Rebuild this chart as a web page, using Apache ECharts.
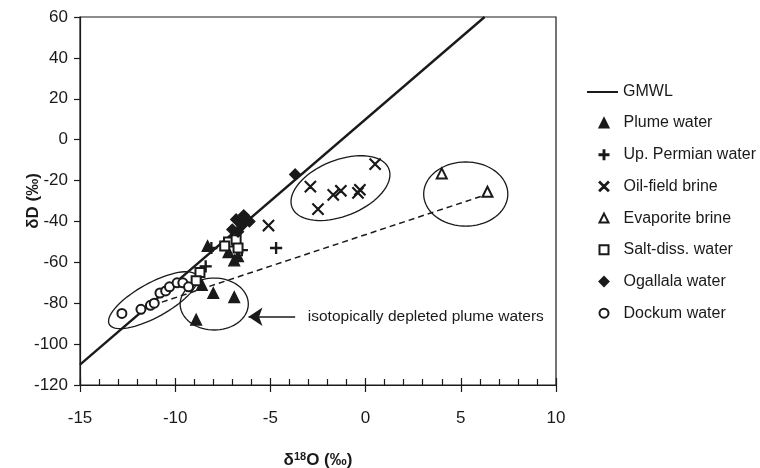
<!DOCTYPE html>
<html>
<head>
    <meta charset="utf-8">
    <title>δD vs δ18O</title>
    <script src="https://cdn.jsdelivr.net/npm/echarts@6/dist/echarts.min.js"></script>
    <style>
        html, body { margin: 0; padding: 0; background: #fff; }
        #main { width: 760px; height: 468px; }
    </style>
</head>
<body>
<div id="main"></div>
<script>
    // values
    var gmwlX = [-15, 6.25];
    var gmwlY = [-110, 60];
    var trendX = [-11.2, 6.3];
    var trendY = [-81, -27];

    var plumeX = [-8.3, -7.2, -6.9, -6.7, -8.6, -8.0, -6.9, -8.9];
    var plumeY = [-52, -55, -59, -57, -71, -75, -77, -88];
    var permianX = [-8.4, -8.1, -6.5, -4.7];
    var permianY = [-62, -53, -54, -53];
    var brineX = [0.5, -2.9, -2.5, -1.7, -1.3, -0.4, -0.3, -5.1];
    var brineY = [-12, -23, -34, -27, -25, -26, -24.5, -42];
    var evapX = [4.0, 6.4];
    var evapY = [-16.5, -25.5];
    var saltX = [-8.7, -8.9, -7.2, -6.8, -6.7, -7.4];
    var saltY = [-65, -69, -50, -49, -53, -52];
    var ogaX = [-6.8, -6.4, -6.5, -6.1, -7.0, -6.7, -6.3, -3.7];
    var ogaY = [-39, -37, -42, -40, -44, -45, -38.5, -17];
    var dockX = [-12.8, -11.8, -11.3, -11.1, -10.8, -10.5, -10.3, -9.9, -9.6, -9.3];
    var dockY = [-85, -83, -81, -80, -75, -74, -72, -70, -70, -72];

    var pointNames = ['Plume water', 'Up. Permian water', 'Oil-field brine', 'Evaporite brine',
        'Salt-diss. water', 'Ogallala water', 'Dockum water'];

    // ellipses drawn round the groups: centre and two half-axis vectors, data units
    var ellCx = [-11.16, -7.95, -1.32, 5.26];
    var ellCy = [-78.5, -80.4, -23.7, -26.6];
    var ellAx = [2.30, 1.79, 2.54, 2.21];
    var ellAy = [11.85, 0, 9.5, 0];
    var ellBx = [0.43, 0, 0.55, 0];
    var ellBy = [-7.3, -12.7, -12.7, -15.7];

    var arrowFrom = [-3.7, -86.6];
    var arrowTo = [-6.15, -86.6];
    var noteAt = [-3.3, -86.6];
    var noteText = 'isotopically depleted plume waters';

    var xTicks = {min: -15, max: 10, interval: 5};
    var yTicks = {min: -120, max: 60, interval: 20};

    function pairs(xs, ys) {
        return xs.map(function (x, i) { return [x, ys[i]]; });
    }

    var font = "'Liberation Sans', Arial, sans-serif";
    var ink = '#1a1a1a';
    var plusPath = 'path://M4.5,0H5.5V4.5H10V5.5H5.5V10H4.5V5.5H0V4.5H4.5Z';
    var crossPath = 'path://M0.6,0L5,4.4L9.4,0L10,0.6L5.6,5L10,9.4L9.4,10L5,5.6L0.6,10L0,9.4L4.4,5L0,0.6Z';
    var linePath = 'path://M0,0H34V2.2H0Z';

    function scatter(name, xs, ys, symbol, size) {
        return {
            name: name,
            type: 'scatter',
            data: pairs(xs, ys),
            symbol: symbol,
            symbolSize: size,
            itemStyle: {color: ink, borderColor: ink, borderWidth: 1.2, opacity: 1},
            z: 5
        };
    }

    var legendText = {fontSize: 16, color: ink, fontFamily: font, lineHeight: 18};

    var myChart = echarts.init(document.getElementById('main'));
    var option = {
        animation: false,
        backgroundColor: '#fff',
        textStyle: {fontFamily: font, color: ink},
        grid: {left: 80, right: 204, top: 17, bottom: 83, outerBoundsMode: 'none',
            show: true, borderColor: ink, borderWidth: 1.2},
        legend: [{
            orient: 'vertical',
            left: 582,
            top: 78,
            itemWidth: 31,
            itemHeight: 9,
            textStyle: legendText,
            data: [{name: 'GMWL', icon: linePath}]
        }, {
            orient: 'vertical',
            left: 593.5,
            top: 109,
            itemWidth: 9,
            itemHeight: 9,
            itemGap: 13.7,
            textStyle: {fontSize: 16, color: ink, fontFamily: font, lineHeight: 18, padding: [0, 0, 0, 10]},
            data: pointNames
        }],
        xAxis: [{
            type: 'value',
            min: xTicks.min, max: xTicks.max, interval: xTicks.interval,
            name: '{d|δ}{s|18}{d|O (‰)}',
            nameLocation: 'middle',
            nameGap: 66,
            nameMoveOverlap: false,
            nameTextStyle: {
                rich: {
                    d: {fontSize: 17, fontWeight: 'bold', fontFamily: font, color: ink},
                    s: {fontSize: 11, fontWeight: 'bold', fontFamily: font, color: ink, verticalAlign: 'top', padding: [0, 0, 8, 0]}
                }
            },
            axisLine: {show: true, onZero: false, lineStyle: {color: ink, width: 1.2}},
            axisTick: {show: true, length: 7, lineStyle: {color: ink, width: 1.2}},
            axisLabel: {fontSize: 17, color: ink, margin: 25, fontFamily: font},
            splitLine: {show: false}
        }, {
            type: 'value',
            position: 'bottom',
            min: xTicks.min, max: xTicks.max, interval: xTicks.interval,
            axisLine: {show: false, onZero: false},
            axisTick: {show: true, inside: true, length: 7, lineStyle: {color: ink, width: 1.2}},
            minorTick: {show: true, splitNumber: 5, length: 6, lineStyle: {color: ink, width: 1.2}},
            axisLabel: {show: false},
            splitLine: {show: false}
        }],
        yAxis: {
            type: 'value',
            min: yTicks.min, max: yTicks.max, interval: yTicks.interval,
            name: 'δD (‰)',
            nameLocation: 'middle',
            nameGap: 38,
            nameMoveOverlap: false,
            nameTextStyle: {fontSize: 17, fontWeight: 'bold', color: ink, fontFamily: font},
            axisLine: {show: true, onZero: false, lineStyle: {color: ink, width: 1.2}},
            axisTick: {show: true, length: 6, lineStyle: {color: ink, width: 1.2}},
            axisLabel: {fontSize: 17, color: ink, margin: 12, fontFamily: font},
            splitLine: {show: false}
        },
        series: [
            {
                name: 'GMWL',
                type: 'line',
                data: pairs(gmwlX, gmwlY),
                symbol: 'none',
                lineStyle: {color: ink, width: 2.4},
                itemStyle: {color: ink},
                z: 3
            },
            {
                name: 'trend',
                type: 'line',
                data: pairs(trendX, trendY),
                symbol: 'none',
                silent: true,
                lineStyle: {color: ink, width: 1.5, type: [6, 4]},
                z: 2
            },
            {
                name: 'groups',
                type: 'custom',
                silent: true,
                data: pairs(ellCx, ellCy),
                encode: {x: 0, y: 1},
                renderItem: function (params, api) {
                    var i = params.dataIndex;
                    var pts = [];
                    for (var k = 0; k <= 72; k++) {
                        var t = k / 72 * Math.PI * 2;
                        var c = Math.cos(t), s = Math.sin(t);
                        pts.push(api.coord([
                            ellCx[i] + ellAx[i] * c + ellBx[i] * s,
                            ellCy[i] + ellAy[i] * c + ellBy[i] * s
                        ]));
                    }
                    return {
                        type: 'polyline',
                        shape: {points: pts},
                        style: {fill: null, stroke: ink, lineWidth: 1.3}
                    };
                },
                z: 2
            },
            {
                name: 'note',
                type: 'line',
                data: [],
                silent: true,
                markLine: {
                    silent: true,
                    symbol: ['none', 'arrow'],
                    symbolSize: 14,
                    label: {show: false},
                    itemStyle: {color: ink},
                    lineStyle: {color: ink, width: 1.5, type: 'solid'},
                    data: [[{coord: arrowFrom}, {coord: arrowTo}]]
                },
                markPoint: {
                    silent: true,
                    symbol: 'circle',
                    symbolSize: 0,
                    label: {show: true, position: 'right', distance: 5, formatter: noteText,
                        fontSize: 15.5, color: ink, fontFamily: font},
                    data: [{coord: noteAt}]
                }
            },
            scatter(pointNames[0], plumeX, plumeY, 'triangle', 11),
            scatter(pointNames[1], permianX, permianY, plusPath, 11),
            scatter(pointNames[2], brineX, brineY, crossPath, 11),
            scatter(pointNames[3], evapX, evapY, 'emptyTriangle', 10),
            scatter(pointNames[4], saltX, saltY, 'emptyRect', 9),
            scatter(pointNames[5], ogaX, ogaY, 'diamond', 11),
            scatter(pointNames[6], dockX, dockY, 'emptyCircle', 9)
        ]
    };
    myChart.setOption(option);
</script>
</body>
</html>
